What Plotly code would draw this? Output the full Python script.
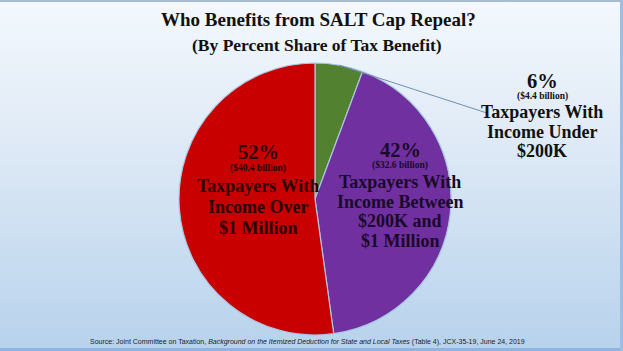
import math
import plotly.graph_objects as go

W, H = 623, 351

# Data
groups = ["Taxpayers With Income Under $200K",
          "Taxpayers With Income Between $200K and $1 Million",
          "Taxpayers With Income Over $1 Million"]
billions = [4.4, 32.6, 40.4]
pct_labels = ["6%", "42%", "52%"]
dollar_labels = ["($4.4 billion)", "($32.6 billion)", "($40.4 billion)"]
name_lines = [["Taxpayers With", "Income Under", "$200K"],
              ["Taxpayers With", "Income Between", "$200K and", "$1 Million"],
              ["Taxpayers With", "Income Over", "$1 Million"]]
colors = ["#52812f", "#7030a0", "#c80000"]

# geometry (pixels)
cx, cy, r = 315, 199, 136
dom_x = [(cx - r) / W, (cx + r) / W]
dom_y = [1 - (cy + r) / H, 1 - (cy - r) / H]

fig = go.Figure()
fig.add_trace(go.Pie(
    labels=groups, values=billions, sort=False, direction="clockwise",
    rotation=0, textinfo="none", hoverinfo="label+percent",
    marker=dict(colors=colors, line=dict(color="#a9c6e2", width=1.2)),
    domain=dict(x=dom_x, y=dom_y), showlegend=False,
))

# background gradient via svg data uri
svg = ("<svg xmlns='http://www.w3.org/2000/svg' width='623' height='351' preserveAspectRatio='none'>"
       "<defs><linearGradient id='g' x1='0' y1='0' x2='0' y2='1'>"
       "<stop offset='0' stop-color='%23f3f8fd'/>"
       "<stop offset='0.35' stop-color='%23e2ecf7'/>"
       "<stop offset='1' stop-color='%23b7d2ec'/>"
       "</linearGradient></defs>"
       "<rect width='623' height='351' fill='url(%23g)'/>"
       "<rect x='0' y='0' width='623' height='2' fill='%23a9bccf'/>"
       "<rect x='0' y='348' width='623' height='3' fill='%238fb4e0'/>"
       "<rect x='620' y='0' width='3' height='351' fill='%239dbde2'/>"
       "</svg>")
fig.add_layout_image(dict(source="data:image/svg+xml;utf8," + svg,
                          xref="paper", yref="paper", x=0, y=1, sizex=1, sizey=1,
                          xanchor="left", yanchor="top", sizing="stretch", layer="below"))

serif = "Liberation Serif"

def px(x):
    return x / W

def py(y):
    return 1 - y / H

def label(x, y, text, size, color, family=serif):
    fig.add_annotation(x=px(x), y=py(y), xref="paper", yref="paper", showarrow=False,
                       xanchor="center", yanchor="middle", text=text,
                       font=dict(family=family, size=size, color=color))

# Title
label(318, 20, "<b>Who Benefits from SALT Cap Repeal?</b>", 19, "#111111")
label(317, 45, "<b>(By Percent Share of Tax Benefit)</b>", 17.5, "#111111")

# slice labels: (center x, y of pct, y of dollars, first name line y, line step)
label_pos = [(542, 81, 96, 112, 19.5),
             (400, 150, 166, 182, 19.5),
             (258, 152, 169, 186, 21)]
text_col = ["#111111", "#1a0a2a", "#2a0000"]
for i in range(3):
    x0, yp, yd, yn, step = label_pos[i]
    label(x0, yp, "<b>" + pct_labels[i] + "</b>", 20.5, text_col[i])
    label(x0, yd, "<b>" + dollar_labels[i] + "</b>", 9.5, text_col[i])
    for j, line in enumerate(name_lines[i]):
        label(x0, yn + j * step, "<b>" + line + "</b>", 18, text_col[i])

# leader line from middle of the green slice edge to its label
frac = billions[0] / sum(billions)
ang = math.radians(360 * frac / 2)
sx, sy = cx + r * math.sin(ang), cy - r * math.cos(ang)
fig.add_shape(type="line", xref="paper", yref="paper",
              x0=px(sx), y0=py(sy), x1=px(487), y1=py(113),
              line=dict(color="#6f8fb0", width=1))

# Source
label(307, 342,
      "Source: Joint Committee on Taxation, <i>Background on the Itemized Deduction for State and Local Taxes</i> (Table 4), JCX-35-19, June 24, 2019",
      7, "#222222", "Liberation Sans")

fig.update_layout(width=W, height=H, margin=dict(l=0, r=0, t=0, b=0),
                  paper_bgcolor="#d6e5f4", plot_bgcolor="rgba(0,0,0,0)")
fig.write_html("out.html")
